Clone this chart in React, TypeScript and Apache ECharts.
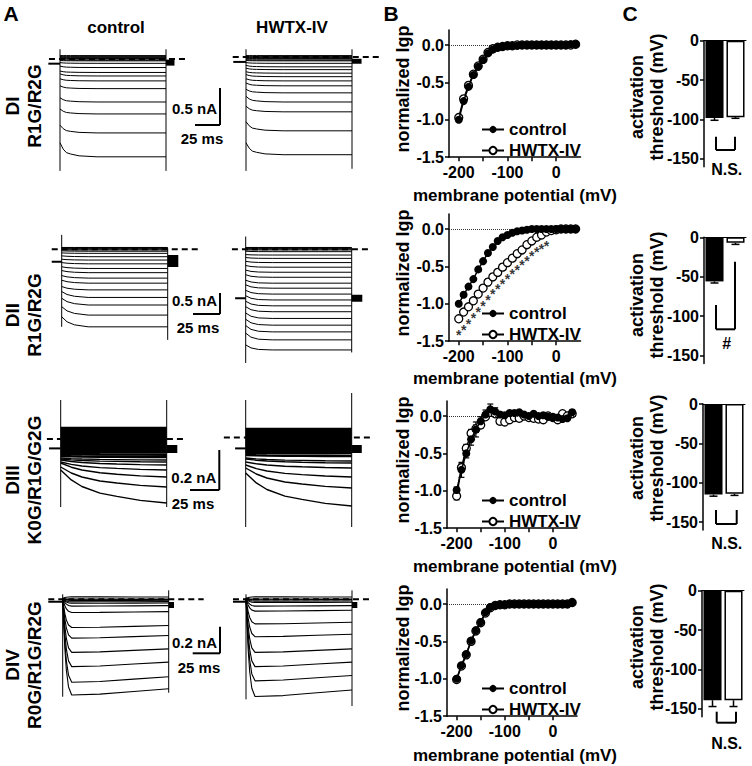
import React, { useEffect, useRef } from "react";
import * as echarts from "echarts";

const FONT = '"Liberation Sans", Arial, Helvetica, sans-serif';

// ---------- Panel B: normalized Igp vs membrane potential ----------
const voltages = [-200, -190, -180, -170, -160, -150, -140, -130, -120, -110, -100, -90, -80, -70, -60, -50, -40, -30, -20, -10, 0, 10, 20, 30, 40];

const diControl = [-1.0, -0.75, -0.56, -0.4, -0.29, -0.2, -0.11, -0.06, -0.03, -0.02, -0.01, -0.01, -0.01, 0, 0, 0, 0, 0, 0, 0, 0, 0, 0, 0.01, 0.01];
const diHwtx = [-0.97, -0.72, -0.54, -0.39, -0.28, -0.19, -0.1, -0.05, -0.03, -0.02, -0.01, -0.01, 0, 0, 0, 0, 0, 0, 0, 0, 0, 0, 0, 0, 0.01];

const diiControl = [-1.0, -0.88, -0.77, -0.67, -0.54, -0.43, -0.32, -0.24, -0.16, -0.11, -0.08, -0.05, -0.03, -0.02, -0.01, 0, 0, 0, 0, 0, 0, 0, 0, 0, 0];
const diiHwtx = [-1.2, -1.11, -1.04, -0.96, -0.87, -0.79, -0.71, -0.64, -0.58, -0.51, -0.45, -0.39, -0.33, -0.28, -0.21, -0.16, -0.11, -0.08, -0.04, -0.02, -0.01, 0, 0, 0, 0];
const diiStarVoltages = [-200, -190, -180, -170, -160, -150, -140, -130, -120, -110, -100, -90, -80, -70, -60, -50, -40, -30, -20];
const diiStarLevels = [-1.37, -1.3, -1.22, -1.13, -1.05, -0.97, -0.89, -0.82, -0.75, -0.68, -0.61, -0.55, -0.49, -0.43, -0.37, -0.31, -0.26, -0.22, -0.18];

const diiiControl = [-0.99, -0.72, -0.5, -0.31, -0.18, -0.07, 0.02, 0.09, 0.06, 0.02, 0.01, 0.04, 0.04, 0.05, 0.02, 0, 0.03, 0, 0.01, -0.01, -0.02, -0.02, -0.04, -0.03, 0.05];
const diiiHwtx = [-1.07, -0.69, -0.43, -0.23, -0.17, -0.12, -0.01, 0.05, 0.03, -0.07, -0.08, -0.05, -0.02, -0.03, 0, -0.02, -0.03, -0.04, -0.05, 0, -0.02, -0.05, 0.03, 0, 0.03];
const diiiControlErr = [0.04, 0.1, 0.06, 0.08, 0.1, 0.06, 0.06, 0.07, 0.05, 0.03, 0.02, 0.02, 0.02, 0.02, 0.02, 0.02, 0.02, 0.02, 0.02, 0.02, 0.02, 0.02, 0.02, 0.02, 0.03];
const diiiHwtxErr = [0.05, 0.05, 0.05, 0.05, 0.05, 0.04, 0.03, 0.03, 0.02, 0.02, 0.02, 0.02, 0.02, 0.02, 0.02, 0.02, 0.02, 0.02, 0.02, 0.02, 0.02, 0.02, 0.02, 0.02, 0.02];

const divControl = [-1.0, -0.82, -0.67, -0.49, -0.35, -0.24, -0.11, -0.04, -0.02, -0.01, -0.01, 0, 0, 0, 0, 0, 0, 0, 0, 0, 0, 0, 0, 0, 0.02];
const divHwtx = [-1.01, -0.83, -0.68, -0.5, -0.36, -0.25, -0.12, -0.05, -0.02, -0.01, -0.01, 0, 0, 0, 0, 0, 0, 0, 0, 0, 0, 0, 0, 0, 0.02];

const ivControlRows = [diControl, diiControl, diiiControl, divControl];
const ivHwtxRows = [diHwtx, diiHwtx, diiiHwtx, divHwtx];
const ivTickLabels = [-200, -100, 0];
const ivTicks = [-200, -150, -100, -50, 0];
const ivYTicks = [0, -0.5, -1.0, -1.5];

// ---------- Panel C: activation threshold ----------
const barCategories = ["control", "HWTX-IV"];
const thresholdControl = [-98, -56, -115, -139];
const thresholdHwtx = [-97, -7, -114, -139];
const thresholdControlErr = [3, 2, 2, 8];
const thresholdHwtxErr = [1.5, 2, 2, 8];
const barTicks = [0, -50, -100, -150];
const significance = ["N.S.", "#", "N.S.", "N.S."];

// ---------- Panel A: current traces, [start, end] in nA ----------
const diTimes = [0, 3, 6, 10, 18, 35, 100];
const diProgress = [0, 0.45, 0.7, 0.8, 0.93, 1, 1];
const diiTimes = [0, 5, 12, 25, 100];
const diiCtrlProgress = [0, 0.5, 0.8, 1, 1];
const diiHwtxProgress = [0, 0.6, 0.9, 1, 1];
const diiiTimes = [0, 10, 20, 37, 53, 75, 100];
const diiiProgress = [0, 0.3, 0.5, 0.7, 0.8, 0.92, 1];
const divTimes = [0, 1, 2, 3.5, 5.5, 8.5, 35, 67, 100];
const divProgress = [0, 0.3, 0.55, 0.8, 0.98, 1.07, 1.06, 1.03, 1];

const diCtrlTraces = [
  [0.02, 0.02], [0.01, 0.01], [0, 0], [-0.01, -0.01], [-0.02, -0.02], [-0.03, -0.03], [-0.04, -0.045], [-0.05, -0.055],
  [-0.08, -0.09], [-0.13, -0.15], [-0.2, -0.22], [-0.24, -0.27], [-0.31, -0.34], [-0.41, -0.45], [-0.58, -0.64], [-0.74, -0.81], [-0.97, -1.08], [-1.22, -1.42],
];
const diHwtxTraces = [
  [0.02, 0.02], [0.01, 0.01], [0, 0], [-0.01, -0.01], [-0.02, -0.02], [-0.03, -0.03], [-0.04, -0.045], [-0.05, -0.055],
  [-0.08, -0.09], [-0.12, -0.14], [-0.16, -0.18], [-0.21, -0.23], [-0.25, -0.28], [-0.31, -0.34], [-0.37, -0.41], [-0.46, -0.51], [-0.56, -0.64], [-0.7, -0.78], [-0.92, -1.05], [-1.22, -1.39],
];
const diiCtrlTraces = [
  [0.02, 0.02], [0.01, 0.01], [0, 0], [-0.02, -0.02], [-0.04, -0.04], [-0.06, -0.07],
  [-0.11, -0.12], [-0.18, -0.2], [-0.26, -0.28], [-0.34, -0.37], [-0.44, -0.48], [-0.53, -0.58], [-0.65, -0.71], [-0.76, -0.83], [-0.91, -0.99], [-1.03, -1.17], [-1.19, -1.35], [-1.39, -1.59], [-1.63, -1.87],
];
const diiHwtxTraces = [
  [0.02, 0.02], [0.01, 0.01], [0, 0], [-0.02, -0.02], [-0.04, -0.04], [-0.07, -0.08],
  [-0.15, -0.16], [-0.22, -0.24], [-0.31, -0.34], [-0.41, -0.45], [-0.52, -0.57], [-0.63, -0.69], [-0.76, -0.83], [-0.87, -0.95], [-1.0, -1.09], [-1.13, -1.23], [-1.26, -1.37], [-1.39, -1.51], [-1.54, -1.67], [-1.69, -1.83], [-1.84, -1.99], [-2.02, -2.18], [-2.3, -2.42],
];
const diiiCtrlTraces = [
  [0.055, 0.055], [0.045, 0.045], [0.035, 0.035], [0.025, 0.025], [0.015, 0.015], [0.005, 0.005], [-0.005, -0.005], [-0.015, -0.015], [-0.025, -0.025], [-0.035, -0.035], [-0.045, -0.045], [-0.055, -0.055], [-0.065, -0.065], [-0.075, -0.078], [-0.085, -0.09],
  [-0.095, -0.105], [-0.1, -0.115], [-0.105, -0.13], [-0.115, -0.155], [-0.12, -0.19], [-0.14, -0.24], [-0.155, -0.32],
];
const diiiHwtxTraces = [
  [0.05, 0.05], [0.04, 0.04], [0.03, 0.03], [0.02, 0.02], [0.01, 0.01], [0, 0], [-0.01, -0.01], [-0.02, -0.02], [-0.03, -0.03], [-0.04, -0.04], [-0.05, -0.05], [-0.06, -0.06], [-0.07, -0.07], [-0.08, -0.085],
  [-0.095, -0.11], [-0.1, -0.12], [-0.115, -0.145], [-0.13, -0.19], [-0.145, -0.245], [-0.17, -0.335],
];
const divCtrlTraces = [
  [0, 0.01], [0, -0.005], [0, -0.01], [0, -0.015], [0, -0.025], [0, -0.035], [0, -0.055],
  [0, -0.1], [0, -0.205], [0, -0.28], [0, -0.38], [0, -0.48], [0, -0.59], [0, -0.68],
];
const divHwtxTraces = [
  [0, 0.01], [0, -0.005], [0, -0.01], [0, -0.02], [0, -0.03], [0, -0.055],
  [0, -0.09], [0, -0.18], [0, -0.27], [0, -0.38], [0, -0.48], [0, -0.58], [0, -0.69],
];

const traceSets = [diCtrlTraces, diHwtxTraces, diiCtrlTraces, diiHwtxTraces, diiiCtrlTraces, diiiHwtxTraces, divCtrlTraces, divHwtxTraces];
const traceTimes = [diTimes, diTimes, diiTimes, diiTimes, diiiTimes, diiiTimes, divTimes, divTimes];
const traceProgress = [diProgress, diProgress, diiCtrlProgress, diiHwtxProgress, diiiProgress, diiiProgress, divProgress, divProgress];
const holdingLevel = [-0.095, -0.07, -0.32, -1.19, -0.047, -0.047, -0.025, -0.025];
const holdingFrom = [-11, -12, -9.4, -10, -11, -10, -13.6, -12.3];
const dashLevel = [-0.027, 0, -0.024, -0.024, 0, 0.008, -0.008, -0.008];
const dashSpan = [[-10.4, 121], [-12.5, 126], [-9.4, 132], [-13, 119], [-13, 118], [-20.6, 119], [-13.6, 133], [-12.3, 119]];
const tailLevel = [-0.08, -0.06, -0.3, -1.19, -0.05, -0.05, -0.05, -0.05];
const tailEnd = [108, 109, 110, 110, 110, 109.5, 105, 105];
const onsetArtifact = [[0.11, -1.62], [0.11, -1.62], [0.32, -1.87], [0.28, -2.73], [0.195, -0.34], [0.195, -0.44], [0.03, -0.74], [0.03, -0.76]];
const offsetArtifact = [[0.11, -1.62], [0.11, -1.59], [0, -2.18], [0, -2.48], [0.195, -0.34], [0.23, -0.44], [0.06, -0.71], [0.06, -0.81]];

// ---------- layout (pixels) ----------
const K = 1.06; // px per ms
const traceLayout = [
  { x0: 60, yb: 50, s: 74 }, { x0: 246, yb: 50, s: 74 },
  { x0: 61.7, yb: 248.3, s: 42 }, { x0: 245.7, yb: 248.3, s: 42 },
  { x0: 60.7, yb: 439, s: 200 }, { x0: 245.7, yb: 439, s: 200 },
  { x0: 62.7, yb: 598.3, s: 133 }, { x0: 246, yb: 598.3, s: 133 },
];
const traceLineWidth = [1, 1, 1, 1, 2.6, 2.6, 1.1, 1.1];
const tailWidth = [6, 5, 12, 7, 8, 8, 6, 6];
const ivZero = [45, 229, 416, 604];
const ivLeft = [449, 449, 447, 447];
const ivWidth = [131.5, 131.5, 130, 130];
const ivUnit = 74.8;
const barZero = [40.7, 237.3, 404, 590.7];
const barLeft = [704, 704, 703, 702];
const barUnit = 0.788;

function buildOption() {
  const grid: any[] = [];
  const xAxis: any[] = [];
  const yAxis: any[] = [];
  const series: any[] = [];
  const legend: any[] = [];
  const elements: any[] = [];
  const black = "#000";

  // ---- trace panels
  traceLayout.forEach((L, i) => {
    grid.push({ left: L.x0 - 30 * K, top: L.yb - 60, width: 180 * K, height: 200 });
    xAxis.push({ gridIndex: i, type: "value", min: -30, max: 150, show: false });
    yAxis.push({ gridIndex: i, type: "value", min: -140 / L.s, max: 60 / L.s, show: false });
    const times = traceTimes[i];
    const prog = traceProgress[i];
    traceSets[i].forEach(([a, b]) => {
      const visible = Math.abs(b) > 0.09 && i >= 4 && i <= 5;
      series.push({
        type: "line", name: "trace", xAxisIndex: i, yAxisIndex: i, silent: true, symbol: "none",
        lineStyle: { color: black, width: visible ? 1.4 : traceLineWidth[i] },
        data: times.map((t, k) => [t, a + (b - a) * prog[k]]),
        z: 2,
      });
    });
    const line = (data: number[][], width: number, type: any = "solid") =>
      series.push({ type: "line", name: "trace", xAxisIndex: i, yAxisIndex: i, silent: true, symbol: "none", lineStyle: { color: black, width, type }, data, z: 3 });
    line([[holdingFrom[i], holdingLevel[i]], [0, holdingLevel[i]]], 2);
    line([[dashSpan[i][0], dashLevel[i]], [dashSpan[i][1], dashLevel[i]]], 2, [6, 4]);
    line([[100, tailLevel[i]], [tailEnd[i], tailLevel[i]]], tailWidth[i]);
    line([[0, onsetArtifact[i][0]], [0, onsetArtifact[i][1]]], 1);
    line([[100, offsetArtifact[i][0]], [100, offsetArtifact[i][1]]], 1);
  });

  const axisFont = { fontFamily: FONT, fontWeight: "bold", fontSize: 16, color: black };

  // ---- IV panels
  for (let r = 0; r < 4; r++) {
    const gi = 8 + r;
    grid.push({ left: ivLeft[r], top: ivZero[r] - 0.2 * ivUnit, width: ivWidth[r], height: 1.7 * ivUnit });
    xAxis.push({
      gridIndex: gi, type: "value", min: -220, max: 50,
      axisLine: { show: true, onZero: false, lineStyle: { color: black, width: 1.5 } },
      axisTick: { show: true, customValues: ivTicks, length: 4, lineStyle: { color: black, width: 1.5 } },
      axisLabel: { customValues: ivTickLabels, margin: 7, ...axisFont },
      splitLine: { show: false },
    });
    yAxis.push({
      gridIndex: gi, type: "value", min: -1.5, max: 0.2,
      axisLine: { show: true, onZero: false, lineStyle: { color: black, width: 1.5 } },
      axisTick: { show: true, customValues: ivYTicks, length: 4, lineStyle: { color: black, width: 1.5 } },
      axisLabel: { customValues: ivYTicks, margin: 5, formatter: (v: number) => v.toFixed(1), ...axisFont },
      splitLine: { show: false },
    });
    series.push({
      type: "line", name: "control", xAxisIndex: gi, yAxisIndex: gi,
      data: voltages.map((v, k) => [v, ivControlRows[r][k]]),
      symbol: "circle", symbolSize: 8, showSymbol: true,
      lineStyle: { color: black, width: 1.5 }, itemStyle: { color: black },
      markLine: { silent: true, symbol: "none", label: { show: false }, lineStyle: { color: black, width: 0.8, type: [1, 1] }, data: [{ yAxis: 0 }] },
      z: 5,
    });
    series.push({
      type: "line", name: "HWTX-IV", xAxisIndex: gi, yAxisIndex: gi,
      data: voltages.map((v, k) => [v, ivHwtxRows[r][k]]),
      symbol: "circle", symbolSize: 8, showSymbol: true,
      lineStyle: { color: black, width: 1.5 }, itemStyle: { color: "#fff", borderColor: black, borderWidth: 1.3 },
      z: 4,
    });
    legend.push({
      left: 476, top: ivZero[r] + 71, orient: "vertical", itemGap: 4, itemWidth: 22, itemHeight: 9,
      selectedMode: false, data: ["control", "HWTX-IV"],
      textStyle: { fontFamily: FONT, fontWeight: "bold", fontSize: 17, color: black },
    });
  }
  // DII asterisks
  series.push({
    type: "scatter", name: "sig", xAxisIndex: 9, yAxisIndex: 9, symbolSize: 1,
    itemStyle: { color: "rgba(0,0,0,0)" },
    data: diiStarVoltages.map((v, k) => [v, diiStarLevels[k]]),
    label: { show: true, formatter: "*", position: "inside", offset: [0, 4], fontFamily: FONT, fontWeight: "bold", fontSize: 14, color: black },
    z: 6,
  });
  // DIII error bars
  const errSeries = (vals: number[], errs: number[]) => ({
    type: "custom", name: "err", xAxisIndex: 10, yAxisIndex: 10, silent: true,
    data: voltages.map((v, k) => [v, vals[k], errs[k]]),
    renderItem: (params: any, api: any) => {
      const x = api.value(0), y = api.value(1), e = api.value(2);
      const p1 = api.coord([x, y + e]);
      const p2 = api.coord([x, y - e]);
      const st = { stroke: black, lineWidth: 1.2 };
      return {
        type: "group", children: [
          { type: "line", shape: { x1: p1[0], y1: p1[1], x2: p2[0], y2: p2[1] }, style: st },
          { type: "line", shape: { x1: p1[0] - 3, y1: p1[1], x2: p1[0] + 3, y2: p1[1] }, style: st },
          { type: "line", shape: { x1: p2[0] - 3, y1: p2[1], x2: p2[0] + 3, y2: p2[1] }, style: st },
        ],
      };
    },
    z: 3,
  });
  series.push(errSeries(diiiControl, diiiControlErr));
  series.push(errSeries(diiiHwtx, diiiHwtxErr));

  // ---- bar panels
  for (let r = 0; r < 4; r++) {
    const gi = 12 + r;
    grid.push({ left: barLeft[r], top: barZero[r], width: 42, height: 160 * barUnit });
    xAxis.push({
      gridIndex: gi, type: "category", data: barCategories,
      axisLine: { show: true, lineStyle: { color: black, width: 1 } },
      axisTick: { show: false }, axisLabel: { show: false }, splitLine: { show: false },
    });
    yAxis.push({
      gridIndex: gi, type: "value", min: -160, max: 0,
      axisLine: { show: true, onZero: false, lineStyle: { color: black, width: 1.5 } },
      axisTick: { show: true, customValues: barTicks, length: 4, lineStyle: { color: black, width: 1.5 } },
      axisLabel: { customValues: barTicks, margin: 5, ...axisFont },
      splitLine: { show: false },
    });
    series.push({
      type: "bar", name: "threshold", xAxisIndex: gi, yAxisIndex: gi, barWidth: "86%", silent: true,
      data: [
        { value: thresholdControl[r], itemStyle: { color: black } },
        { value: thresholdHwtx[r], itemStyle: { color: "#fff", borderColor: black, borderWidth: 1.5 } },
      ],
      z: 2,
    });
    series.push({
      type: "custom", name: "bar err", xAxisIndex: gi, yAxisIndex: gi, silent: true,
      data: [[0, thresholdControl[r], thresholdControlErr[r]], [1, thresholdHwtx[r], thresholdHwtxErr[r]]],
      encode: { x: 0, y: 1 },
      renderItem: (params: any, api: any) => {
        const x = api.value(0), y = api.value(1), e = api.value(2);
        const p1 = api.coord([x, y]);
        const p2 = api.coord([x, y - e]);
        const st = { stroke: black, lineWidth: 1.5 };
        return {
          type: "group", children: [
            { type: "line", shape: { x1: p1[0], y1: p1[1], x2: p2[0], y2: p2[1] }, style: st },
            { type: "line", shape: { x1: p2[0] - 4, y1: p2[1], x2: p2[0] + 4, y2: p2[1] }, style: st },
          ],
        };
      },
      z: 3,
    });
  }

  // ---- graphic annotations
  const txt = (x: number, y: number, text: string, size: number, align = "center", rot = 0) => {
    elements.push({
      type: "text", x, y, rotation: rot, silent: true,
      style: { text, x: 0, y: 0, fill: black, font: `bold ${size}px ${FONT}`, textAlign: align, textVerticalAlign: "middle", align, verticalAlign: "middle" },
    });
  };
  const ln = (x1: number, y1: number, x2: number, y2: number, w = 2) => {
    elements.push({ type: "line", silent: true, shape: { x1, y1, x2, y2 }, style: { stroke: black, lineWidth: w } });
  };
  const R = Math.PI / 2;
  txt(11, 13, "A", 21);
  txt(391, 13, "B", 21);
  txt(630, 13, "C", 21);
  txt(116, 27, "control", 17);
  txt(292, 27, "HWTX-IV", 17);

  // row labels
  const rowTop = ["DI", "DII", "DIII", "DIV"];
  const rowBottom = ["R1G/R2G", "R1G/R2G", "K0G/R1G/G2G", "R0G/R1G/R2G"];
  const rowY = [106, 315, 480, 665];
  for (let r = 0; r < 4; r++) {
    txt(12, rowY[r], rowTop[r], 19, "center", R);
    txt(34, rowY[r], rowBottom[r], 19, "center", R);
  }

  // scale bars
  const scaleAmp = ["0.5 nA", "0.5 nA", "0.2 nA", "0.2 nA"];
  const sb = [
    { x: 220, y1: 88, y2: 125, xl: 195, ta: 108, tt: 138, tc: 202 },
    { x: 220, y1: 293, y2: 314, xl: 193, ta: 300, tt: 327, tc: 198 },
    { x: 219.3, y1: 450, y2: 490, xl: 190, ta: 477, tt: 503, tc: 193 },
    { x: 220, y1: 626.7, y2: 653.3, xl: 192.7, ta: 642, tt: 667, tc: 199 },
  ];
  sb.forEach((b, r) => {
    ln(b.x, b.y1, b.x, b.y2, 2);
    ln(b.xl, b.y2, b.x, b.y2, 2);
    txt(b.x - 3, b.ta, scaleAmp[r], 15, "right");
    txt(b.tc, b.tt, "25 ms", 15);
  });

  // IV axis names
  const ivNameY = [195, 378, 566, 755];
  for (let r = 0; r < 4; r++) {
    txt(403, ivZero[r] + 44, "normalized Igp", 18, "center", R);
    txt(515, ivNameY[r], "membrane potential (mV)", 17);
  }

  // bar axis names + significance
  const barNameY = [97, 295, 458, 647];
  for (let r = 0; r < 4; r++) {
    txt(637, barNameY[r], "activation", 18, "center", R);
    txt(657, barNameY[r], "threshold (mV)", 18, "center", R);
  }
  // brackets
  ln(716, 136.7, 716, 150); ln(716, 150, 735, 150); ln(735, 150, 735, 136.7);
  ln(716, 305, 716, 329.3); ln(716, 329.3, 735, 329.3); ln(735, 329.3, 735, 261.7);
  ln(716, 510, 716, 524); ln(716, 524, 736.7, 524); ln(736.7, 524, 736.7, 510);
  ln(716.7, 711.7, 716.7, 722.7); ln(716.7, 722.7, 736, 722.7); ln(736, 722.7, 736, 711.7);
  const sigY = [169, 343, 543, 743];
  sigY.forEach((y, r) => txt(726.7, y, significance[r], 16));

  return {
    animation: false,
    backgroundColor: "#fff",
    grid, xAxis, yAxis, series, legend,
    graphic: { elements },
  };
}

export default function App() {
  const ref = useRef<HTMLDivElement>(null);
  useEffect(() => {
    const chart = echarts.init(ref.current as HTMLDivElement, null, { renderer: "svg" });
    chart.setOption(buildOption() as any);
    return () => chart.dispose();
  }, []);
  return (
    <div
      ref={ref}
      style={{ position: "absolute", left: 0, top: 0, width: 752, height: 766, background: "#fff" }}
    />
  );
}
